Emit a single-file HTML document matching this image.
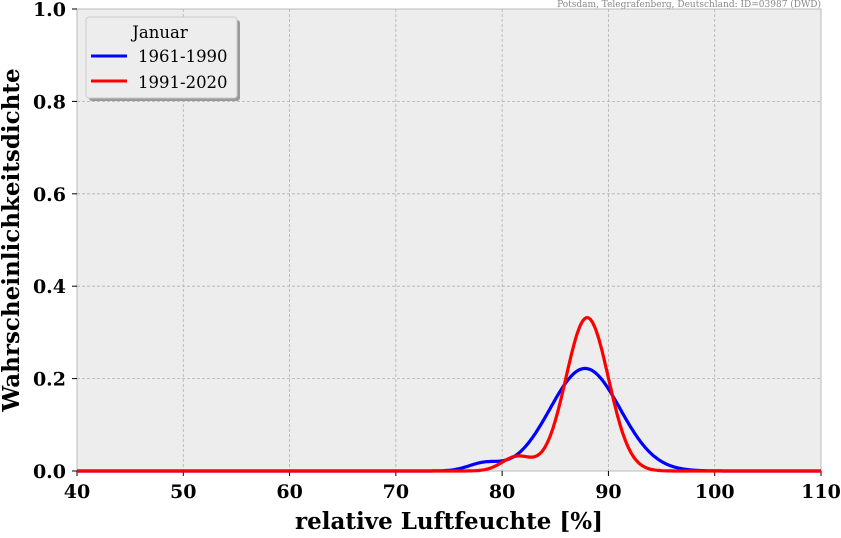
<!DOCTYPE html>
<html><head><meta charset="utf-8"><style>
body{margin:0;background:#fff;}
svg text{font-family:"DejaVu Serif","Liberation Serif",serif;}
</style></head><body>
<svg id="s" width="841" height="533" xmlns="http://www.w3.org/2000/svg">
<rect x="77" y="9" width="744" height="462" fill="#ededed" stroke="#bbb" stroke-width="1"/>
<g id="grid" stroke="#b0b0b0" stroke-width="0.8" stroke-dasharray="3,2"></g>
<g id="ticks" font-size="19" font-weight="bold" fill="#000"></g>
<text x="821" y="7" font-size="9" fill="#888" text-anchor="end">Potsdam, Telegrafenberg, Deutschland: ID=03987 (DWD)</text>
<text x="449" y="529" font-size="23" font-weight="bold" text-anchor="middle">relative Luftfeuchte [%]</text>
<text transform="translate(19,240) rotate(-90)" font-size="23" font-weight="bold" text-anchor="middle">Wahrscheinlichkeitsdichte</text>
<path id="b" fill="none" stroke="#0000ff" stroke-width="3.2"/>
<path id="r" fill="none" stroke="#ff0000" stroke-width="3.2"/>
<rect x="89" y="20" width="151" height="81" rx="3" fill="#999"/>
<rect x="86" y="17" width="151" height="81" rx="3" fill="#ededed" stroke="#ccc"/>
<text x="160" y="38" font-size="16.5" text-anchor="middle">Januar</text>
<line x1="91" y1="56" x2="127" y2="56" stroke="#00f" stroke-width="3"/>
<text x="138" y="62" font-size="16.5">1961-1990</text>
<line x1="91" y1="81" x2="127" y2="81" stroke="#f00" stroke-width="3"/>
<text x="138" y="88" font-size="16.5">1991-2020</text>
</svg>
<script>
const X=v=>77+(v-40)*744/70, Y=v=>471-v*462;
const g=document.getElementById('grid'),t=document.getElementById('ticks');
let h='',tt='';
for(let v=50;v<110;v+=10)h+=`<line x1="${X(v)}" y1="9" x2="${X(v)}" y2="471"/>`;
for(let v=0.2;v<1;v+=0.2)h+=`<line x1="77" y1="${Y(v)}" x2="821" y2="${Y(v)}"/>`;
g.innerHTML=h;
for(let v=40;v<=110;v+=10)tt+=`<line x1="${X(v)}" y1="471" x2="${X(v)}" y2="476" stroke="#000"/><text x="${X(v)}" y="498" text-anchor="middle">${v}</text>`;
for(let i=0;i<=5;i++){let v=i*0.2;tt+=`<line x1="72" y1="${Y(v)}" x2="77" y2="${Y(v)}" stroke="#000"/><text x="66" y="${Y(v)+7}" text-anchor="end">${v.toFixed(1)}</text>`;}
t.innerHTML=tt;
const G=(x,m,s,a)=>a*Math.exp(-0.5*((x-m)/s)**2);
function path(f){let d='';for(let x=40;x<=110;x+=0.1){d+=(d?'L':'M')+X(x).toFixed(1)+','+Y(f(x)).toFixed(1);}return d;}
document.getElementById('b').setAttribute('d',path(x=>G(x,87.8,3.3,0.222)+G(x,78.3,1.5,0.016)));
document.getElementById('r').setAttribute('d',path(x=>G(x,88,2.0,0.332)+G(x,81.4,1.4,0.031)));
</script>
</body></html>
